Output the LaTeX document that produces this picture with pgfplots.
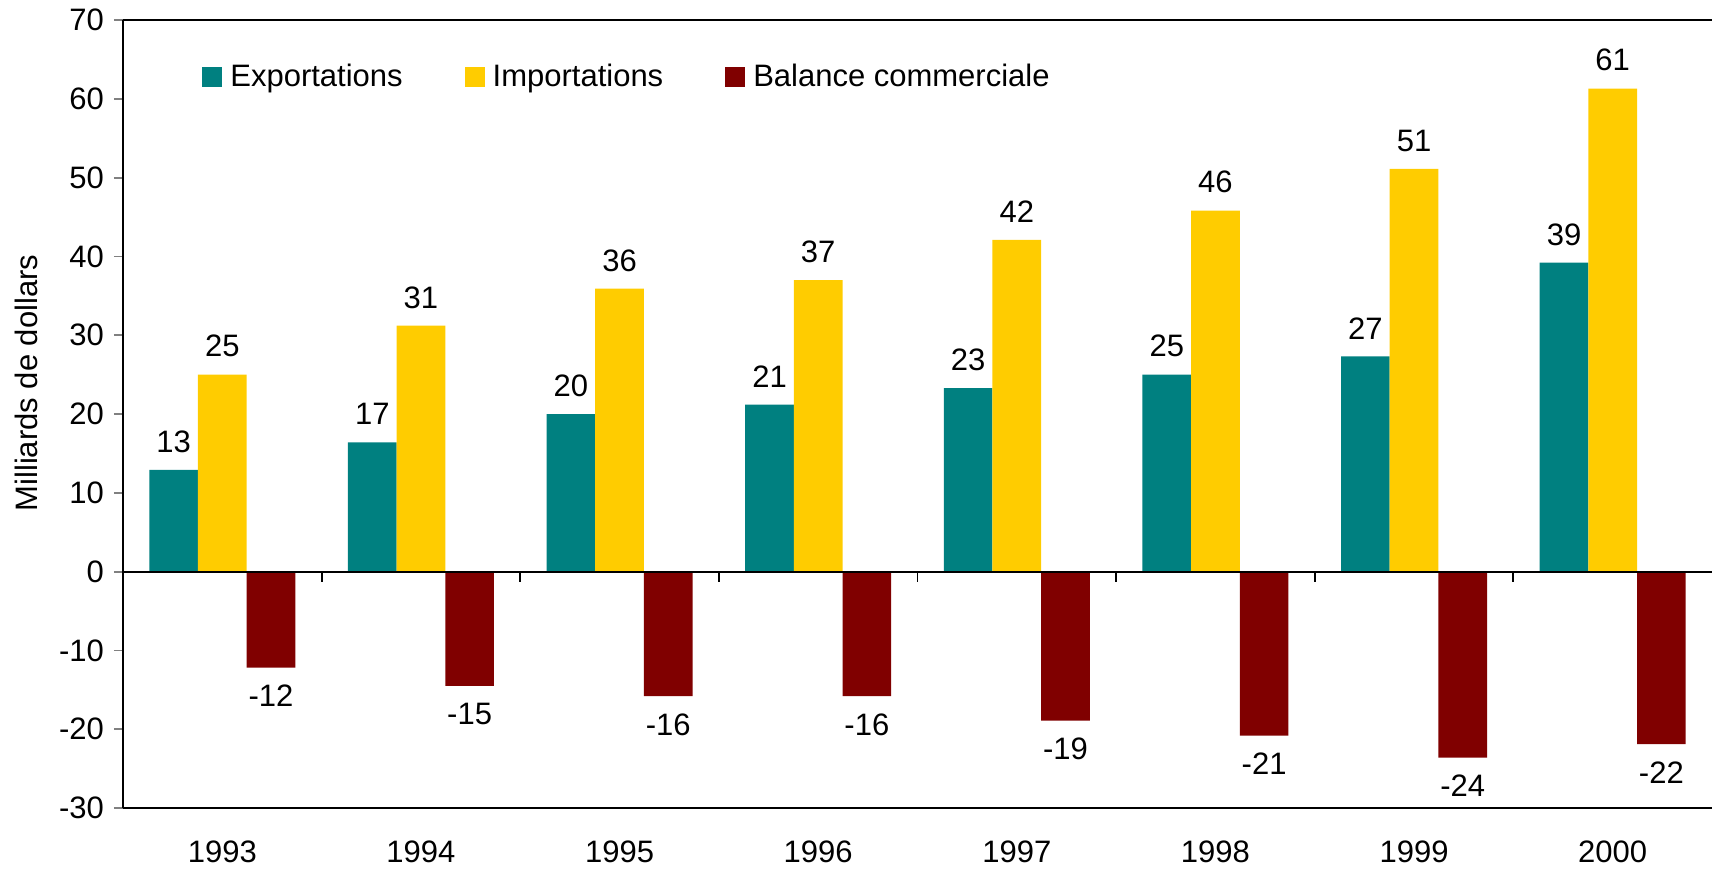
\documentclass[border=0pt]{standalone}
\usepackage{fontspec}
\setmainfont{Liberation Sans}
\usepackage{pgfplots}
\pgfplotsset{compat=1.18}
\definecolor{cExp}{RGB}{0,128,128}
\definecolor{cImp}{RGB}{255,204,0}
\definecolor{cBal}{RGB}{128,0,0}
\newcommand{\fs}{\fontsize{15.5}{18}\selectfont}
\pgfplotsset{sqlegend/.style={legend image code/.code={\fill[##1] (0pt,-5pt) rectangle (10pt,5pt);}}}
\begin{document}
\begin{tikzpicture}
\useasboundingbox (-61.5pt,-30.5pt) rectangle (794.5pt,404pt);
\begin{axis}[
  at={(0,0)}, anchor=south west,
  scale only axis, width=794.5pt, height=394pt,
  xmin=-0.5, xmax=7.5, ymin=-30, ymax=70,
  axis x line*=bottom, axis y line*=left,
  axis line style={-, line width=1pt},
  ytick={-30,-20,-10,0,10,20,30,40,50,60,70},
  yticklabels={-30,-20,-10,0,10,20,30,40,50,60,70},
  xtick={0,1,2,3,4,5,6,7},
  xticklabels={1993,1994,1995,1996,1997,1998,1999,2000},
  x tick style={draw=none}, xtick align=outside,
  y tick style={line width=0.9pt}, ytick align=outside, major tick length=4.5pt,
  tick label style={font=\fs},
  xticklabel style={yshift=-8.3pt},
  yticklabel style={xshift=-1.5pt},
  ylabel={Milliards de dollars},
  ylabel style={font=\fs, at={(axis description cs:0,0.5)}, anchor=center, yshift=48.5pt, xshift=15.5pt},
  ybar, bar width=0.245,
  nodes near coords, point meta=explicit symbolic,
  nodes near coords style={font=\fs, inner sep=8.5pt, text=black},
  legend columns=3,
  legend style={at={(axis description cs:0.0497,0.928)}, anchor=west, draw=none, fill=none, inner sep=0pt,
    font=\fs, nodes={inner sep=0pt},
    /tikz/every odd column/.append style={column sep=4pt},
    /tikz/every even column/.append style={column sep=31pt}},
  clip=false,
]
\addplot[fill=cExp, draw=none, bar shift=-0.245, sqlegend] coordinates {
 (0,12.9) [13] (1,16.4) [17] (2,20.0) [20] (3,21.2) [21]
 (4,23.3) [23] (5,25.0) [25] (6,27.3) [27] (7,39.2) [39]};
\addlegendentry{Exportations}
\addplot[fill=cImp, draw=none, bar shift=0, sqlegend] coordinates {
 (0,25.0) [25] (1,31.2) [31] (2,35.9) [36] (3,37.0) [37]
 (4,42.1) [42] (5,45.8) [46] (6,51.1) [51] (7,61.3) [61]};
\addlegendentry{Importations}
\addplot[fill=cBal, draw=none, bar shift=0.245, sqlegend,
  every node near coord/.append style={anchor=north}] coordinates {
 (0,-12.2) [-12] (1,-14.5) [-15] (2,-15.8) [-16] (3,-15.8) [-16]
 (4,-18.9) [-19] (5,-20.8) [-21] (6,-23.6) [-24] (7,-21.9) [-22]};
\addlegendentry{Balance commerciale}
\draw[line width=1pt] (rel axis cs:0,1) -- (rel axis cs:1,1);
\draw[line width=1pt] (axis cs:-0.5,0) -- (axis cs:7.5,0);
\pgfplotsinvokeforeach{0.5,1.5,2.5,3.5,4.5,5.5,6.5}{
  \draw[line width=0.9pt] (axis cs:#1,0) -- ([yshift=-5pt]axis cs:#1,0);
}
\end{axis}
\end{tikzpicture}
\end{document}
